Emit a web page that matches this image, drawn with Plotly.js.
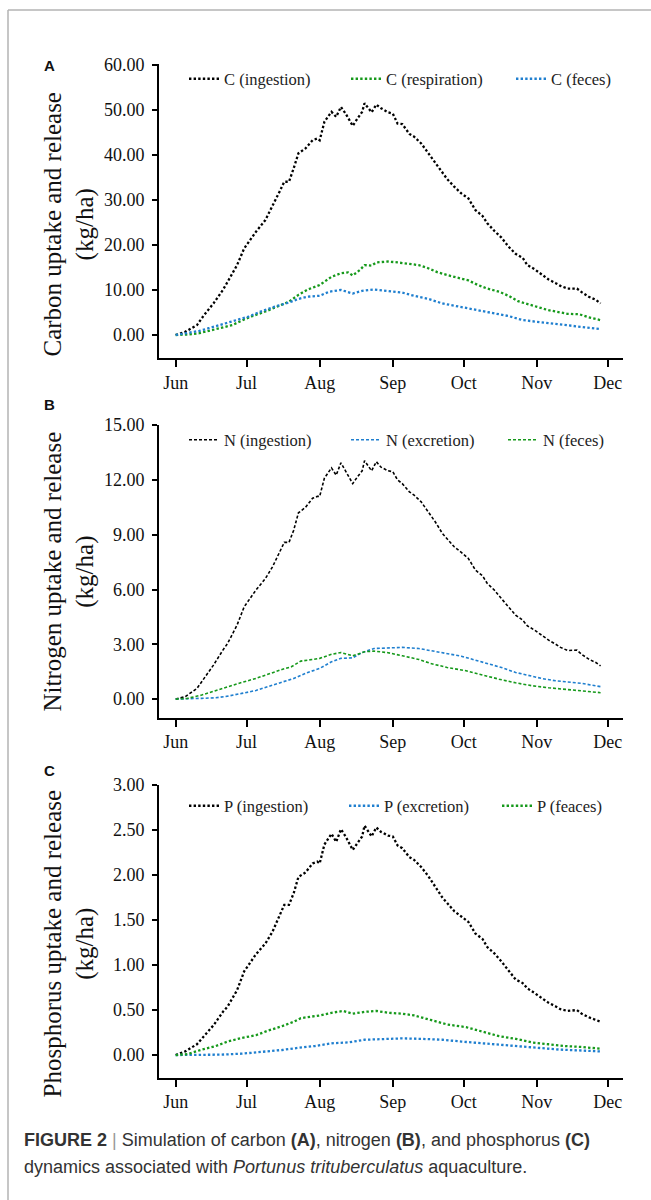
<!DOCTYPE html>
<html><head><meta charset="utf-8">
<script src="https://cdn.plot.ly/plotly-3.0.1.min.js"></script>
<style>html,body{margin:0;padding:0;background:#fff}#chart{width:651px;height:1200px}</style>
</head><body><div id="chart"></div><script>
// Month ticks (days after 1 June)
const monthTickDays = [0, 30, 61, 92, 122, 153, 183];
const monthLabels = ['Jun', 'Jul', 'Aug', 'Sep', 'Oct', 'Nov', 'Dec'];

// Ingestion series share the same sampling days
const ingDays = [0,4,9,12,16,20,22,26,29,34,38,41,44,46,48,50,52,55,58,60,61,63,66,68,70,72,75,77,79,80,83,85,87,90,92,94,96,99,101,104,107,110,113,115,118,121,124,127,130,132,135,138,141,144,147,149,152,155,158,161,163,166,170,172,175,178,180];
const cIngestion = [0,0.7,2.2,4.4,7.0,10.0,11.8,15.5,19.2,22.9,25.5,28.5,31.8,34.0,34.0,37.0,40.3,41.4,43.2,43.6,43.2,47.3,49.5,48.4,50.6,49.1,46.4,48.0,49.5,51.4,49.4,51.1,50.3,49.4,49.1,46.9,46.8,44.6,44.0,42.5,40.3,38.1,35.8,34.6,32.9,31.4,30.3,27.7,26.4,24.8,23.1,21.6,19.6,18.0,17.1,15.5,14.6,13.5,12.3,11.5,10.9,10.3,10.3,9.5,8.5,7.8,7.0];
const nIngestion = [0,0.13,0.58,1.13,1.86,2.68,3.05,4.05,5.05,5.97,6.6,7.24,8.07,8.58,8.58,9.25,10.2,10.5,11.0,11.1,11.1,12.1,12.66,12.26,12.94,12.5,11.8,12.17,12.5,13.05,12.5,13.0,12.7,12.5,12.45,12.0,11.8,11.35,11.17,10.8,10.26,9.7,9.07,8.76,8.34,8.03,7.7,7.06,6.75,6.33,5.97,5.5,5.05,4.6,4.32,4.01,3.78,3.5,3.23,3.0,2.83,2.66,2.68,2.45,2.19,2.0,1.82];
const pIngestion = [0,0.04,0.12,0.21,0.33,0.48,0.54,0.72,0.93,1.12,1.24,1.37,1.56,1.67,1.67,1.80,1.98,2.03,2.13,2.15,2.13,2.34,2.46,2.37,2.51,2.43,2.28,2.36,2.43,2.55,2.43,2.53,2.48,2.44,2.43,2.33,2.30,2.20,2.17,2.09,1.99,1.87,1.75,1.69,1.60,1.54,1.48,1.35,1.29,1.20,1.13,1.04,0.94,0.84,0.80,0.74,0.69,0.63,0.58,0.54,0.51,0.49,0.50,0.46,0.42,0.39,0.37];

// Carbon release
const cRespDays = [0,5,10,14,20,24,28,32,38,42,48,52,56,61,63,66,70,73,75,78,80,83,85,90,94,99,103,107,111,115,120,124,128,132,137,141,145,149,154,158,162,166,171,175,180];
const cRespiration = [0,0.1,0.4,0.9,1.6,2.2,3.2,4.1,5.2,6.1,7.4,8.9,10.1,11.1,11.8,12.9,13.7,13.9,13.2,14.4,15.5,15.4,16.1,16.3,16.1,15.7,15.5,14.8,13.9,13.3,12.7,12.1,11.1,10.3,9.6,8.7,7.5,6.8,6.1,5.5,5.1,4.7,4.6,3.9,3.3];
const cFecesDays = [0,5,10,14,20,25,31,36,42,48,52,56,61,65,70,75,79,84,90,96,101,107,113,118,124,130,135,141,147,152,158,164,169,175,180];
const cFeces = [0,0.4,0.9,1.5,2.4,3.2,4.1,5.2,6.3,7.2,8.0,8.5,8.7,9.6,10.0,9.2,9.8,10.1,9.8,9.4,8.7,8.0,7.0,6.5,5.9,5.3,4.8,4.2,3.3,3.0,2.5,2.2,2.0,1.6,1.3];

// Nitrogen release
const nExcrDays = [0,5,11,17,22,28,34,39,45,50,56,61,66,70,75,79,84,90,96,103,108,114,121,127,132,138,144,149,155,161,166,172,180];
const nExcretion = [0,0,0.04,0.07,0.16,0.31,0.47,0.68,0.91,1.13,1.46,1.68,2.04,2.23,2.26,2.55,2.77,2.81,2.83,2.77,2.65,2.5,2.35,2.13,1.95,1.73,1.46,1.31,1.13,1.0,0.93,0.86,0.68];
const nFecesDays = [0,5,11,17,22,28,34,39,45,49,53,58,61,66,70,75,80,84,90,96,103,108,115,123,130,137,144,151,158,165,172,180];
const nFeces = [0,0.04,0.22,0.47,0.68,0.91,1.13,1.37,1.62,1.77,2.08,2.17,2.23,2.45,2.55,2.37,2.59,2.63,2.54,2.37,2.17,1.95,1.73,1.55,1.31,1.09,0.89,0.73,0.62,0.53,0.47,0.35];

// Phosphorus release
const pExcrDays = [0,5,14,19,28,36,45,52,59,66,73,80,87,96,104,113,121,130,138,147,155,163,172,180];
const pExcretion = [0,0,0,0.004,0.015,0.033,0.056,0.08,0.10,0.13,0.14,0.17,0.18,0.185,0.18,0.17,0.15,0.13,0.11,0.09,0.074,0.06,0.05,0.04];
const pFeacesDays = [0,5,11,17,22,28,34,39,45,50,53,58,61,66,71,75,80,85,90,96,101,108,115,123,130,137,144,151,158,165,172,180];
const pFeaces = [0,0.01,0.06,0.10,0.15,0.19,0.22,0.27,0.32,0.37,0.41,0.43,0.44,0.47,0.49,0.46,0.48,0.49,0.47,0.46,0.44,0.39,0.34,0.31,0.26,0.21,0.18,0.14,0.12,0.10,0.09,0.07];

const W = 651, H = 1200;
const px = x => x / W;
const py = y => 1 - y / H;

const BLACK = '#000000', GREEN = '#16991b', BLUE = '#1f7fcf';
const dotA = {dash: '2.4px,2.2px', width: 2.3};
const dashB = {dash: '3px,2px', width: 1.6};

function tr(x, y, name, color, style, ax, legend, lw) {
  return {x: x, y: y, name: name, type: 'scatter', mode: 'lines',
    line: {color: color, width: style.width, dash: style.dash},
    xaxis: 'x' + ax, yaxis: 'y' + ax, legend: legend, legendwidth: lw, hoverinfo: 'skip'};
}

const data = [
  tr(ingDays, cIngestion, 'C (ingestion)', BLACK, dotA, '', 'legend', 117),
  tr(cRespDays, cRespiration, 'C (respiration)', GREEN, dotA, '', 'legend', 120),
  tr(cFecesDays, cFeces, 'C (feces)', BLUE, dotA, '', 'legend', 80),
  tr(ingDays, nIngestion, 'N (ingestion)', BLACK, dashB, '2', 'legend2', 117),
  tr(nExcrDays, nExcretion, 'N (excretion)', BLUE, dashB, '2', 'legend2', 112),
  tr(nFecesDays, nFeces, 'N (feces)', GREEN, dashB, '2', 'legend2', 80),
  tr(ingDays, pIngestion, 'P (ingestion)', BLACK, dotA, '3', 'legend3', 115),
  tr(pExcrDays, pExcretion, 'P (excretion)', BLUE, dotA, '3', 'legend3', 108),
  tr(pFeacesDays, pFeaces, 'P (feaces)', GREEN, dotA, '3', 'legend3', 80)
];

const serif = 'Liberation Serif, Times New Roman, serif';
const xRange = [-7.07, 189.5];
const xDom = [px(159), px(623)];

function xa(anchor) {
  return {domain: xDom, range: xRange, anchor: anchor, tickmode: 'array',
    tickvals: monthTickDays, ticktext: monthLabels, showline: true, linecolor: '#000', linewidth: 2,
    ticks: 'outside', ticklen: 7, tickwidth: 2, tickcolor: '#000', showgrid: false, zeroline: false,
    tickfont: {family: serif, size: 18, color: '#111'}, fixedrange: true};
}
function ya(anchor, dom, range, dtick) {
  return {domain: dom, range: range, anchor: anchor, tick0: 0, dtick: dtick, tickformat: '.2f',
    showline: true, linecolor: '#000', linewidth: 2, ticks: 'outside', ticklen: 5, tickwidth: 2,
    tickcolor: '#000', showgrid: false, zeroline: false, ticklabelstandoff: 4,
    tickfont: {family: serif, size: 18, color: '#111'}, fixedrange: true};
}
function leg(yc) {
  return {orientation: 'h', x: px(184), xanchor: 'left', y: py(yc), yanchor: 'middle',
    font: {family: serif, size: 16.5, color: '#222'}, bgcolor: 'rgba(0,0,0,0)', borderwidth: 0,
    traceorder: 'normal'};
}
function ytitle(text, yc) {
  return {xref: 'paper', yref: 'paper', x: px(68.5), y: py(yc), xanchor: 'center', yanchor: 'middle',
    text: text, textangle: -90, showarrow: false, font: {family: serif, size: 25, color: '#111'}};
}
function letter(t, yc) {
  return {xref: 'paper', yref: 'paper', x: px(49), y: py(yc), xanchor: 'center', yanchor: 'middle',
    text: '<b>' + t + '</b>', showarrow: false, font: {family: 'Liberation Sans, Arial, sans-serif', size: 15, color: '#111'}};
}

const layout = {
  width: W, height: H, margin: {l: 0, r: 0, t: 0, b: 0},
  paper_bgcolor: '#fff', plot_bgcolor: 'rgba(0,0,0,0)', showlegend: true,
  xaxis: xa('y'), xaxis2: xa('y2'), xaxis3: xa('y3'),
  yaxis: ya('x', [py(358.3), py(64.3)], [-5.17, 60.05], 10),
  yaxis2: ya('x2', [py(717.7), py(425)], [-1.02, 15.01], 3),
  yaxis3: ya('x3', [py(1077.7), py(785)], [-0.252, 3.002], 0.5),
  legend: leg(79), legend2: leg(440), legend3: leg(806),
  annotations: [
    letter('A', 65), letter('B', 404), letter('C', 770),
    ytitle('Carbon uptake and release<br>(kg/ha)', 225),
    ytitle('Nitrogen uptake and release<br>(kg/ha)', 572),
    ytitle('Phosphorus uptake and release<br>(kg/ha)', 944),
    {xref: 'paper', yref: 'paper', x: px(22), y: py(1140), xanchor: 'left', yanchor: 'middle', showarrow: false,
     text: '<b>FIGURE 2</b> <span style="color:#999">|</span> Simulation of carbon <b>(A)</b>, nitrogen <b>(B)</b>, and phosphorus <b>(C)</b>',
     font: {family: 'Liberation Sans, Arial, sans-serif', size: 18, color: '#333'}},
    {xref: 'paper', yref: 'paper', x: px(22), y: py(1167), xanchor: 'left', yanchor: 'middle', showarrow: false,
     text: 'dynamics associated with <i>Portunus trituberculatus</i> aquaculture.',
     font: {family: 'Liberation Sans, Arial, sans-serif', size: 18, color: '#333'}}
  ],
  shapes: [
    {type: 'line', xref: 'paper', yref: 'paper', x0: px(8), x1: px(8), y0: py(10), y1: 0, line: {color: '#b3b3b3', width: 1.5}},
    {type: 'line', xref: 'paper', yref: 'paper', x0: px(8), x1: 1, y0: py(10), y1: py(10), line: {color: '#b3b3b3', width: 1.5}}
  ]
};

Plotly.newPlot('chart', data, layout, {displayModeBar: false, staticPlot: true});
</script></body></html>
